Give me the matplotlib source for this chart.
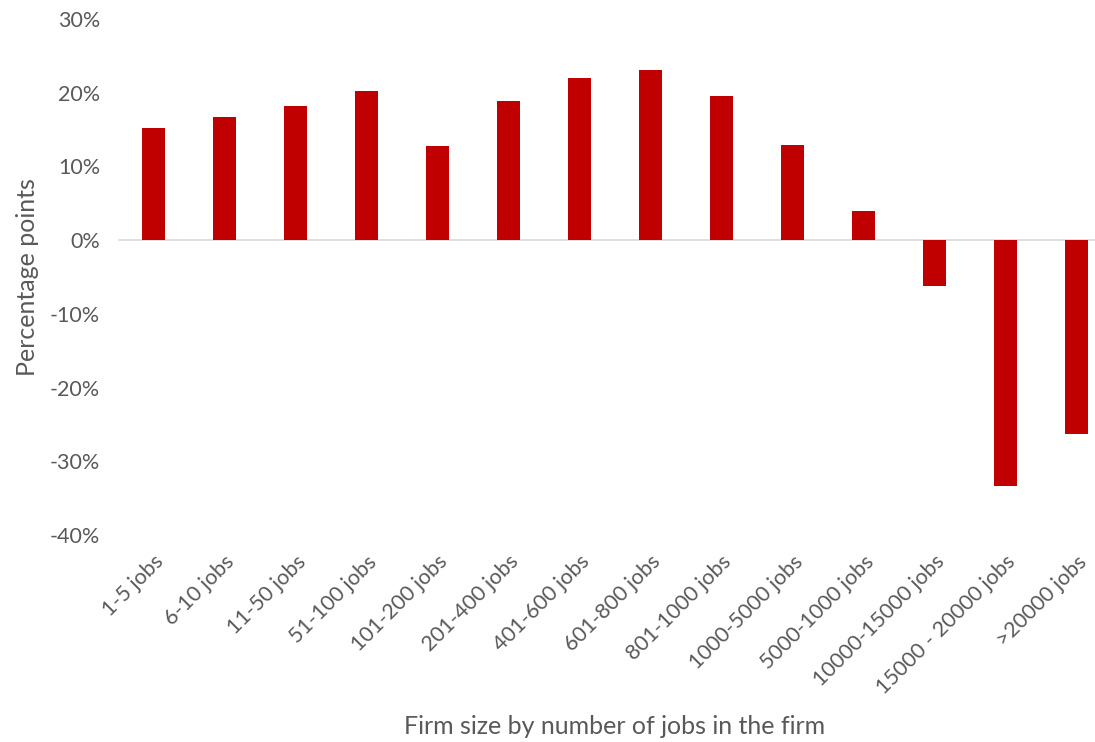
import matplotlib.pyplot as plt
from matplotlib.ticker import FuncFormatter

plt.rcParams['font.family'] = ['Lato', 'DejaVu Sans']

categories = ['1-5 jobs', '6-10 jobs', '11-50 jobs', '51-100 jobs', '101-200 jobs',
              '201-400 jobs', '401-600 jobs', '601-800 jobs', '801-1000 jobs',
              '1000-5000 jobs', '5000-1000 jobs', '10000-15000 jobs',
              '15000 - 20000 jobs', '>20000 jobs']
values = [15.2, 16.7, 18.2, 20.2, 12.8, 18.9, 22.0, 23.1, 19.5, 12.9, 4.0,
          -6.2, -33.4, -26.3]

grey = '#595959'
fig = plt.figure(figsize=(10.95, 7.42), dpi=100)
ax = fig.add_axes([118 / 1095, 1 - 535 / 742, (1095 - 118) / 1095, (535 - 19) / 742])

x = range(len(categories))
ax.bar(x, values, width=0.32, color='#c00000', zorder=3)
ax.axhline(0, color='#d9d9d9', lw=1.2, zorder=2)

ax.set_ylim(-40, 30)
ax.set_xlim(-0.5, 13.26)
ax.set_yticks(range(-40, 31, 10))
ax.yaxis.set_major_formatter(FuncFormatter(lambda v, _: f'{v:.0f}%'))
ax.set_xticks(list(x))
ax.set_xticklabels(categories, rotation=45, ha='right', rotation_mode='anchor')
ax.tick_params(axis='both', length=0, labelsize=15.5, colors=grey)
ax.tick_params(axis='x', pad=12)
ax.tick_params(axis='y', pad=13)
for s in ax.spines.values():
    s.set_visible(False)

ax.set_ylabel('Percentage points', fontsize=18, color=grey, labelpad=8)
fig.text(615 / 1095, 1 - 727 / 742, 'Firm size by number of jobs in the firm',
         fontsize=18, color=grey, ha='center', va='center')

fig.savefig('out.png', dpi=100)
